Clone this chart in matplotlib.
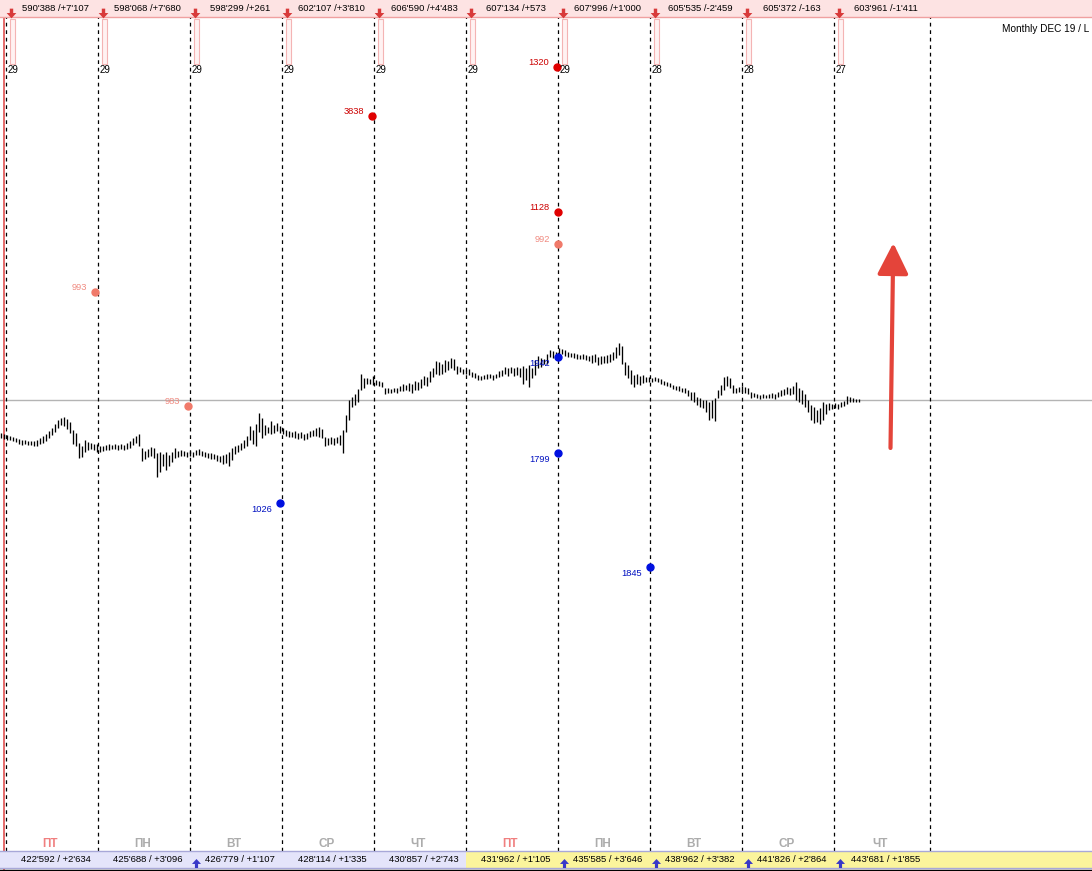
import numpy as np
import matplotlib.pyplot as plt
from matplotlib.patches import Rectangle
from matplotlib.path import Path

plt.rcParams['font.family'] = ['Liberation Sans', 'DejaVu Sans']

# bar highs / lows, one bar per time step (price units, arbitrary offset)
highs = [67, 66, 65, 64, 63, 62, 61, 60, 60, 59, 59, 59, 60, 62, 64, 66, 69, 72, 76, 80, 82, 83, 81, 78, 70, 67, 57, 54, 60, 58, 57, 56, 56,
         54, 54, 55, 56, 55, 56, 55, 56, 55, 57, 59, 62, 64, 66, 52, 49, 51, 53, 52, 47, 48, 46, 48, 45, 48, 52, 49, 50, 49, 48,
         49, 48, 50, 51, 49, 48, 47, 47, 46, 45, 44, 45, 46, 48, 52, 54, 55, 57, 60, 64, 74, 70, 76, 87, 82, 75, 73, 79, 75, 77, 74,
         72, 70, 69, 68, 69, 67, 68, 66, 67, 69, 70, 72, 73, 71, 63, 62, 63, 62, 63, 65, 70, 85, 100, 103, 106, 111, 126, 122, 122, 121, 124,
         120, 119, 118, 112, 112, 111, 112, 112, 114, 116, 115, 117, 116, 119, 118, 121, 124, 123, 129, 132, 139, 138, 136, 140, 139, 142, 141, 134, 133, 131,
         130, 131, 128, 127, 125, 124, 125, 126, 126, 125, 126, 129, 130, 133, 132, 133, 132, 133, 132, 134, 132, 135, 132, 140, 144, 142, 141, 146, 150, 149, 148,
         152, 151, 150, 148, 147, 147, 146, 145, 146, 145, 144, 145, 146, 143, 144, 144, 145, 146, 148, 153, 157, 154, 138, 135, 130, 125, 126, 124, 125, 123,
         123, 122, 123, 122, 121, 119, 118, 117, 115, 114, 114, 112, 112, 110, 108, 108, 103, 102, 100, 100, 98, 100, 102, 110, 115, 123, 124, 122, 115, 112, 113,
         114, 113, 112, 108, 107, 106, 105, 106, 105, 106, 107, 106, 108, 110, 111, 113, 112, 114, 118, 112, 110, 106, 100, 95, 93, 90, 92, 98, 96, 97, 96,
         97, 96, 98, 99, 104, 103, 102, 101, 101]
lows = [62, 61, 60, 60, 59, 58, 56, 55, 56, 55, 55, 54, 54, 56, 57, 59, 62, 65, 68, 72, 75, 74, 71, 67, 56, 54, 42, 43, 48, 50, 51, 50, 48,
        48, 49, 50, 50, 51, 51, 50, 51, 50, 51, 52, 55, 57, 54, 39, 41, 43, 44, 42, 23, 28, 34, 30, 34, 38, 42, 43, 44, 44, 43,
        44, 43, 45, 45, 44, 43, 42, 41, 41, 39, 38, 36, 37, 34, 40, 46, 48, 50, 52, 54, 60, 56, 54, 68, 62, 65, 67, 66, 67, 69, 67,
        66, 64, 63, 63, 62, 61, 62, 60, 61, 63, 64, 64, 63, 62, 54, 55, 56, 55, 57, 55, 47, 68, 80, 93, 95, 98, 110, 112, 116, 116, 115,
        115, 114, 113, 106, 107, 107, 108, 107, 109, 109, 110, 109, 107, 110, 110, 112, 115, 114, 118, 123, 126, 125, 126, 128, 130, 132, 130, 126, 128, 126,
        126, 125, 123, 122, 120, 120, 121, 121, 122, 120, 122, 123, 124, 126, 124, 127, 124, 125, 123, 116, 120, 113, 122, 125, 132, 133, 136, 136, 143, 142, 142,
        145, 146, 144, 143, 143, 142, 141, 141, 141, 140, 139, 137, 138, 135, 136, 137, 137, 138, 140, 142, 145, 136, 125, 122, 116, 113, 116, 115, 117, 118,
        118, 118, 119, 118, 116, 115, 114, 113, 111, 110, 109, 108, 107, 104, 100, 98, 95, 93, 92, 88, 80, 82, 79, 102, 105, 110, 114, 112, 107, 107, 108,
        108, 107, 106, 102, 103, 102, 101, 102, 102, 102, 102, 101, 103, 104, 105, 106, 105, 106, 100, 98, 96, 93, 88, 80, 77, 78, 76, 80, 86, 90, 91,
        92, 91, 93, 94, 96, 98, 98, 98, 98]
ref_level = 100

# session boundaries (in bars)
day_edges = [1.67, 32.33, 63.0, 93.67, 124.33, 155.0, 185.67, 216.33, 247.0, 277.67, 309.67]
top_texts = ["590'388 /+7'107", "598'068 /+7'680", "598'299 /+261", "602'107 /+3'810", "606'590 /+4'483",
             "607'134 /+573", "607'996 /+1'000", "605'535 /-2'459", "605'372 /-163", "603'961 /-1'411"]
day_nums = ['29', '29', '29', '29', '29', '29', '29', '28', '28', '27']
weekdays = ['ПТ', 'ПН', 'ВТ', 'СР', 'ЧТ', 'ПТ', 'ПН', 'ВТ', 'СР', 'ЧТ']
bottom_texts = ["422'592 / +2'634", "425'688 / +3'096", "426'779 / +1'107", "428'114 / +1'335", "430'857 / +2'743",
                "431'962 / +1'105", "435'585 / +3'646", "438'962 / +3'382", "441'826 / +2'864", "443'681 / +1'855"]
bottom_up = [False, False, True, False, False, False, True, True, True, True]

# volume marks: bar position, price level, label, kind
mark_pos = [31.3, 62.3, 93.0, 123.7, 185.3, 185.7, 185.7, 185.7, 185.7, 216.3]
mark_price = [208, 94, -3, 384, 433, 288, 256, 143, 47, -67]
mark_text = ['993', '983', '1026', '3838', '1320', '1128', '992', '1942', '1799', '1845']
mark_kind = ['light', 'light', 'blue', 'red', 'red', 'red', 'light', 'blue', 'blue', 'blue']


def X(px):
    return (px - 1) / 3.0


def Y(py):
    return 500 - py


fig = plt.figure(figsize=(10.92, 8.71), dpi=100)
ax = fig.add_axes([0, 0, 1, 1])
ax.set_xlim(X(0), X(1092))
ax.set_ylim(Y(871), Y(0))
ax.axis('off')

# reference level
ax.axhline(ref_level, color='#b4b4b4', lw=1.0, zorder=1)

# session separators
ax.vlines(day_edges, Y(851), Y(17), colors='black', linestyles=(0, (3, 3)), lw=0.9, zorder=1)
ax.vlines(X(4), Y(871), Y(0), colors='#e05050', lw=1.2, zorder=2)

# price bars
idx = np.arange(len(highs))
ax.vlines(idx, lows, highs, colors='black', lw=0.95, zorder=3)

# volume marks
styles = {'red': ('#e00000', '#cc0000'), 'light': ('#f07a6a', '#f08a80'), 'blue': ('#0010e0', '#0010c0')}
for xp, pr, t, k in zip(mark_pos, mark_price, mark_text, mark_kind):
    dc, tc = styles[k]
    ax.plot(xp, pr, 'o', ms=5, color=dc, zorder=5)
    dy = 3.5 if k != 'blue' else -4.5
    ax.annotate(t, (xp, pr), xytext=(-6, dy), textcoords='offset points',
                ha='right', va='center', fontsize=6.7, color=tc, zorder=6)

# top band
ax.add_patch(Rectangle((X(0), Y(17)), X(1092) - X(0), 17, fc='#fde3e3', ec='none', zorder=4))
ax.plot([X(0), X(1092)], [Y(17), Y(17)], color='#f0a0a0', lw=1.0, zorder=4)
down_arrow = Path([(-0.35, 1), (0.35, 1), (0.35, 0.1), (1, 0.1), (0, -1), (-1, 0.1), (-0.35, 0.1), (-0.35, 1)])
up_arrow = Path([(-0.35, -1), (0.35, -1), (0.35, -0.1), (1, -0.1), (0, 1), (-1, -0.1), (-0.35, -0.1), (-0.35, -1)])
for i in range(10):
    e0, e1 = day_edges[i], day_edges[i + 1]
    mid = (e0 + e1) / 2
    ax.plot(e0 + 1.7, Y(13), marker=down_arrow, ms=7, color='#d83a3a', mec='none', zorder=5)
    ax.text(mid + 1.3, Y(8.5), top_texts[i], ha='center', va='center', fontsize=6.8, color='black', zorder=5)
    ax.add_patch(Rectangle((e0 + 1.4, Y(64)), 1.6, 45, fc='#fff2f2', ec='#f4b4b4', lw=0.8, zorder=2))
    ax.text(e0 + 0.6, Y(70), day_nums[i], ha='left', va='center', fontsize=7, color='black', zorder=5)
    # weekday labels
    wc = '#f07f7f' if weekdays[i] == 'ПТ' else '#acacac'
    ax.text(mid - 0.6, Y(843.5), weekdays[i], ha='center', va='center', fontsize=8.5,
            fontweight='bold', color=wc, zorder=5)

ax.text(X(1002), Y(29), 'Monthly DEC 19 / L', ha='left', va='center', fontsize=7.2, color='black')

# bottom band
ax.add_patch(Rectangle((X(0), Y(868)), X(466) - X(0), 17, fc='#e4e4fa', ec='none', zorder=4))
ax.add_patch(Rectangle((X(466), Y(868)), X(1092) - X(466), 17, fc='#fbf49c', ec='none', zorder=4))
ax.plot([X(0), X(1092)], [Y(851), Y(851)], color='#a8a8d8', lw=1.0, zorder=4)
ax.plot([X(0), X(1092)], [Y(867.5), Y(867.5)], color='#a8a8d8', lw=1.0, zorder=4)
ax.plot([X(0), X(1092)], [Y(869.5), Y(869.5)], color='black', lw=1.0, zorder=4)
ticks = np.arange(X(5), X(1092), 20.3)
ax.vlines(ticks, Y(871), Y(869.5), colors='black', lw=1.0, zorder=4)
for i in range(10):
    e0, e1 = day_edges[i], day_edges[i + 1]
    mid = (e0 + e1) / 2
    ax.text(mid + 1.3, Y(859.5), bottom_texts[i], ha='center', va='center', fontsize=6.8, color='black', zorder=5)
    if bottom_up[i]:
        ax.plot(e0 + 2.0, Y(863), marker=up_arrow, ms=6.5, color='#3838c8', mec='none', zorder=5)

# trend arrow
ax.annotate('', xy=(X(893.3), Y(243)), xytext=(X(890.5), Y(448)),
            arrowprops=dict(arrowstyle='-|>,head_length=1.9,head_width=0.95', lw=3.0,
                            color='#e4443a', shrinkA=0, shrinkB=0), zorder=6)

fig.savefig('out.png', dpi=100)
